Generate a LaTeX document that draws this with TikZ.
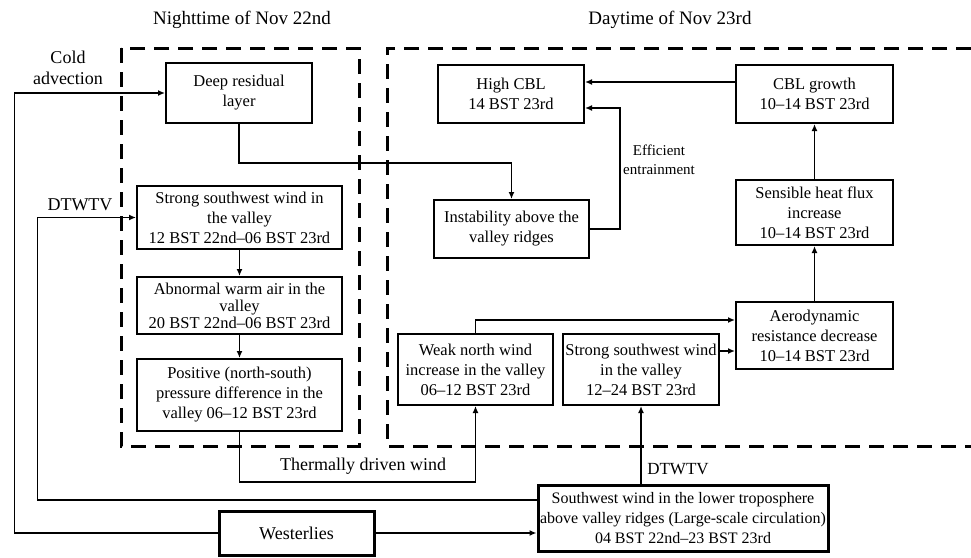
\documentclass[tikz,border=0pt]{standalone}
\usepackage{fontspec}
\setmainfont{Liberation Serif}
\usetikzlibrary{arrows.meta}

\tikzset{
	box/.style={draw, line width=2pt, align=center, inner sep=2pt, font=\fontsize{16.5}{20}\selectfont},
	bigbox/.style={box, line width=3pt},
	arr/.style={line width=1.8pt, -{Latex[length=7pt,width=6pt]}},
	zone/.style={line width=3pt, dash pattern=on 15pt off 9pt},
	lbl/.style={font=\fontsize{18}{21}\selectfont, align=center}
}

\begin{document}
\begin{tikzpicture}[x=1pt, y=-1pt]
	\useasboundingbox (0,0) rectangle (971,557);
	
	% dashed periods
	\draw [zone] (121,48) rectangle (359,446);
	\draw [zone] (971,48) -- (387,48) -- (387,446) -- (971,446);
	\node [lbl, font=\fontsize{19}{22}\selectfont] (night) at (242,20) {Nighttime of Nov 22nd};
	\node [lbl, font=\fontsize{19}{22}\selectfont] (day) at (670,20) {Daytime of Nov 23rd};
	
	% nighttime boxes
	\node [box, minimum width=146pt, minimum height=60pt] (deep) at (239,93) {Deep residual\\layer};
	\node [box, minimum width=205pt, minimum height=63pt] (sswl) at (239.5,217.5) {Strong southwest wind in\\the valley\\12 BST 22nd--06 BST 23rd};
	\node [box, minimum width=205pt, minimum height=57pt, font=\fontsize{16.5}{17}\selectfont] (warm) at (239.5,305.5) {Abnormal warm air in the\\valley\\20 BST 22nd--06 BST 23rd};
	\node [box, minimum width=205pt, minimum height=72pt] (pos) at (239.5,395) {Positive (north-south)\\pressure difference in the\\valley 06--12 BST 23rd};
	
	% daytime boxes
	\node [box, minimum width=146pt, minimum height=58pt] (high) at (511,94) {High CBL\\14 BST 23rd};
	\node [box, minimum width=157pt, minimum height=58pt] (growth) at (814.5,94) {CBL growth\\10--14 BST 23rd};
	\node [box, minimum width=155pt, minimum height=58pt] (inst) at (511.5,229) {Instability above the\\valley ridges};
	\node [box, minimum width=157pt, minimum height=65pt] (sens) at (814.5,212.5) {Sensible heat flux\\increase\\10--14 BST 23rd};
	\node [box, minimum width=157pt, minimum height=67pt] (aero) at (814.5,335.5) {Aerodynamic\\resistance decrease\\10--14 BST 23rd};
	\node [box, minimum width=155pt, minimum height=71pt] (weak) at (475.5,369.5) {Weak north wind\\increase in the valley\\06--12 BST 23rd};
	\node [box, minimum width=154pt, minimum height=71pt] (sswr) at (641,369.5) {Strong southwest wind\\in the valley\\12--24 BST 23rd};
	
	% large-scale boxes
	\node [bigbox, minimum width=155pt, minimum height=44pt, font=\fontsize{18}{21}\selectfont] (west) at (296.5,533) {Westerlies};
	\node [bigbox, minimum width=290pt, minimum height=66pt, font=\fontsize{16}{20}\selectfont] (sw) at (683,518) {Southwest wind in the lower troposphere\\above valley ridges (Large-scale circulation)\\04 BST 22nd--23 BST 23rd};
	
	% arrows
	\draw [arr] (west.west) -- ++(-203,0) |- (deep.west);
	\draw [arr] (west.east) -- (west.east -| sw.west);
	\draw [arr] ([yshift=18pt]sw.west) -- ++(-499,0) |- (sswl.west);
	\draw [arr] (sswl.south) -- (warm.north);
	\draw [arr] (warm.south) -- (pos.north);
	\draw [arr] (pos.south) -- ++(0,50) -| (weak.south);
	\draw [arr] (sw.north -| sswr.south) -- (sswr.south);
	\draw [arr] (weak.north) |- ([yshift=15.5pt]aero.west);
	\draw [arr] ([yshift=-15.5pt]aero.west -| sswr.east) -- ([yshift=-15.5pt]aero.west);
	\draw [arr] (aero.north) -- (sens.south);
	\draw [arr] (sens.north) -- (growth.south);
	\draw [arr] ([yshift=12pt]growth.west) -- ([yshift=12pt]high.east);
	\draw [arr] (inst.east) -- ++(30,0) |- ([yshift=-14pt]high.east);
	\draw [arr] (deep.south) -- ++(0,39) -| (inst.north);
	
	% write labels
	\node [lbl] (cold) at (68,68) {Cold\\advection};
	\node [lbl] (dtl) at (80,205) {DTWTV};
	\node [lbl, font=\fontsize{17}{20}\selectfont] (dtr) at (678,469) {DTWTV};
	\node [lbl] (therm) at (363,466) {Thermally driven wind};
	\node [lbl, font=\fontsize{15}{19}\selectfont] (eff) at (659,160) {Efficient\\entrainment};
\end{tikzpicture}
\end{document}
